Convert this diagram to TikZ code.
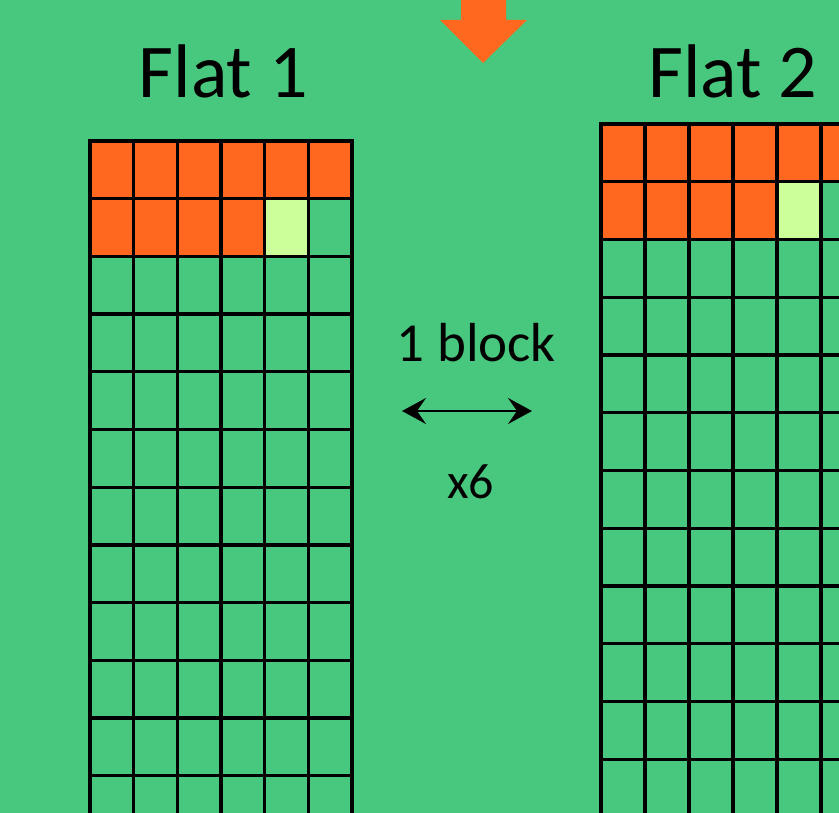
\documentclass[tikz,border=0pt]{standalone}
\usepackage{fontspec}
\setmainfont{Carlito}
\usetikzlibrary{arrows.meta}
\definecolor{bgGreen}{RGB}{72,200,126}
\definecolor{flatOrange}{RGB}{255,104,30}
\definecolor{paleLime}{RGB}{204,255,153}

\begin{document}
\begin{tikzpicture}[x=1pt,y=-1pt,>={Stealth[length=24pt,width=26pt,inset=9pt]},line cap=rect]
\useasboundingbox (0,0) rectangle (839,813);
\clip (0,0) rectangle (839,813);
\fill[bgGreen] (0,0) rectangle (839,813);
% downward arrow at top
\fill[flatOrange] (461,-5) -- (506,-5) -- (506,20) -- (527,20) -- (483,63) -- (440,20) -- (461,20) -- cycle;
% titles
\node[anchor=base,font=\fontsize{76}{80}\selectfont] (titleA) at (223.5,98) {Flat 1};
\node[anchor=base,font=\fontsize{76}{80}\selectfont] (titleB) at (733,98) {Flat 2};
% flat 1 grid
\fill[flatOrange] (90,141) rectangle (352,198);
\fill[flatOrange] (90,198) rectangle (265,256);
\fill[paleLime] (265,198) rectangle (308,256);
\foreach \c in {0,...,6}
  \draw[line width=3.2pt] (90+43.67*\c,141) -- (90+43.67*\c,820);
\foreach \r in {0,...,11}
  \draw[line width=3.2pt] (90,141+57.7*\r) -- (352,141+57.7*\r);
% flat 2 grid
\fill[flatOrange] (601,124) rectangle (845,182);
\fill[flatOrange] (601,182) rectangle (777,240);
\fill[paleLime] (777,182) rectangle (821,240);
\foreach \c in {0,...,6}
  \draw[line width=3.2pt] (601+44*\c,124) -- (601+44*\c,820);
\foreach \r in {0,...,12}
  \draw[line width=3.2pt] (601,124+57.75*\r) -- (845,124+57.75*\r);
% block width marker
\coordinate (blockL) at (402,411);
\coordinate (blockR) at (532,411);
\draw[<->,line width=2.5pt,line cap=butt] (blockL) -- (blockR);
\node[anchor=base,font=\fontsize{55}{60}\selectfont] (blockLabel) at (476.5,362) {1 block};
\node[anchor=base,font=\fontsize{50}{54}\selectfont] (countLabel) at (470.5,498) {x6};
\end{tikzpicture}
\end{document}
